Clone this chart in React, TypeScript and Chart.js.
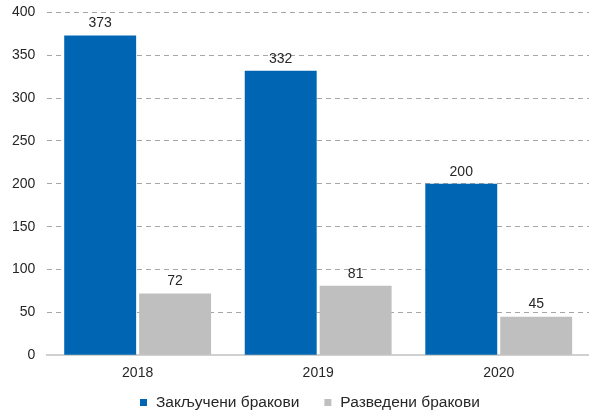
import React, { useEffect, useRef } from "react";
import { Chart, registerables } from "chart.js";

Chart.register(...registerables);

const categories = ["2018", "2019", "2020"];
const marriages = [373, 332, 200];
const divorces = [72, 81, 45];
const seriesNames = ["Закључени бракови", "Разведени бракови"];

const FONT = "'Liberation Sans', Arial, sans-serif";

const valueLabels = {
  id: "valueLabels",
  afterDatasetsDraw(chart: any) {
    const ctx = chart.ctx;
    ctx.save();
    ctx.font = `14px ${FONT}`;
    ctx.fillStyle = "#262626";
    ctx.textAlign = "center";
    ctx.textBaseline = "bottom";
    chart.data.datasets.forEach((ds: any, i: number) => {
      const meta = chart.getDatasetMeta(i);
      meta.data.forEach((bar: any, j: number) => {
        ctx.fillText(String(ds.data[j]), bar.x, bar.y - 5);
      });
    });
    ctx.restore();
  },
};

const bottomLegend = {
  id: "bottomLegend",
  afterDraw(chart: any) {
    const ctx = chart.ctx;
    ctx.save();
    ctx.font = `15.5px ${FONT}`;
    ctx.textAlign = "left";
    ctx.textBaseline = "middle";
    const y = chart.height - 10;
    let x = 140;
    chart.data.datasets.forEach((ds: any, i: number) => {
      ctx.fillStyle = ds.backgroundColor;
      ctx.fillRect(x, y - 4, 7, 7);
      x += 16;
      ctx.fillStyle = "#262626";
      ctx.fillText(ds.label, x, y);
      x += ctx.measureText(ds.label).width + 25;
    });
    ctx.restore();
  },
};

export default function App() {
  const ref = useRef<HTMLCanvasElement>(null);
  useEffect(() => {
    const chart = new Chart(ref.current!, {
      type: "bar",
      data: {
        labels: categories,
        datasets: [
          { label: seriesNames[0], data: marriages, backgroundColor: "#0066b3" },
          { label: seriesNames[1], data: divorces, backgroundColor: "#bfbfbf" },
        ],
      },
      options: {
        animation: false,
        responsive: false,
        layout: { padding: { top: 0, right: 0, left: 0, bottom: 29 } },
        datasets: { bar: { categoryPercentage: 0.83, barPercentage: 0.96 } } as any,
        scales: {
          x: {
            grid: { display: false },
            border: { color: "#d0d0d0", width: 2 },
            ticks: { color: "#262626", font: { family: FONT, size: 14 }, padding: 2 },
          },
          y: {
            min: 0,
            max: 400,
            ticks: { stepSize: 50, color: "#262626", font: { family: FONT, size: 14 }, padding: 12 },
            grid: { color: "#a6a6a6", drawTicks: false, tickLength: 0 },
            border: { display: false, dash: [5, 4] },
          },
        },
        plugins: {
          legend: { display: false },
          tooltip: { enabled: false },
        },
      },
      plugins: [valueLabels, bottomLegend],
    });
    return () => chart.destroy();
  }, []);
  return (
    <div style={{ position: "absolute", left: 0, top: 0, width: 589, height: 413, background: "#fff", overflow: "hidden" }}>
      <canvas ref={ref} width={589} height={421} style={{ position: "absolute", left: 0, top: -8 }} />
    </div>
  );
}
